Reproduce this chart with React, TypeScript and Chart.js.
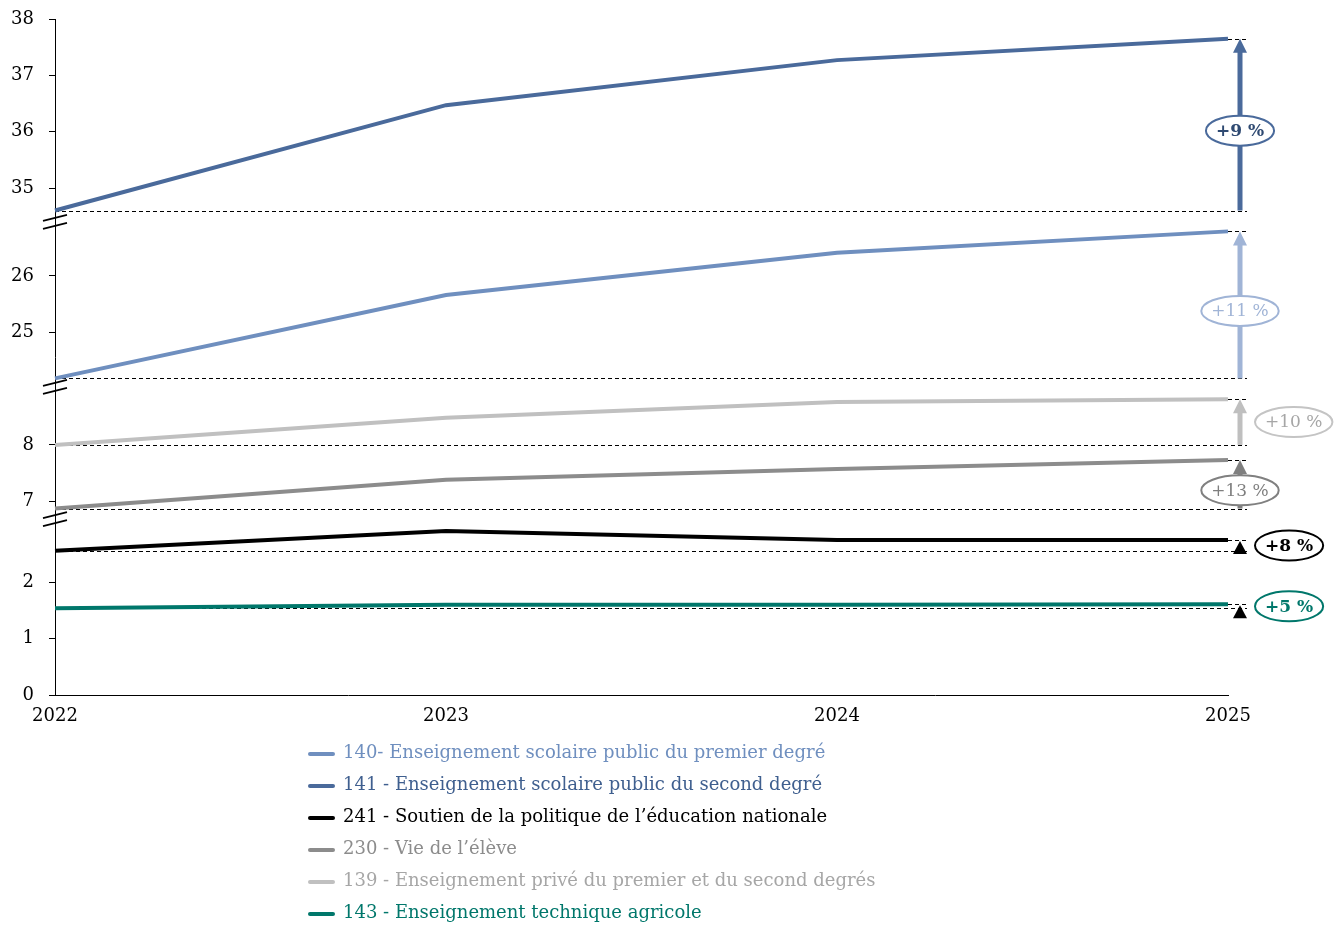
import React, { useEffect, useRef } from "react";
import { Chart, registerables } from "chart.js";
Chart.register(...registerables);

const FONT = '"DejaVu Serif", "Liberation Serif", serif';

// ---- data ----
const years = ["2022", "2023", "2024", "2025"];
const names = [
  "140- Enseignement scolaire public du premier degré",
  "141 - Enseignement scolaire public du second degré",
  "241 - Soutien de la politique de l’éducation nationale",
  "230 - Vie de l’élève",
  "139 - Enseignement privé du premier et du second degrés",
  "143 - Enseignement technique agricole",
];
const s140 = [24.18, 25.66, 26.41, 26.79];
const s141 = [34.6, 36.47, 37.27, 37.65];
const s241 = [2.56, 2.91, 2.75, 2.75];
const s230 = [6.87, 7.38, 7.57, 7.73];
const s139 = [8.0, 8.48, 8.76, 8.81];
const s143 = [1.54, 1.6, 1.6, 1.61];
const growthLabels = ["+11 %", "+9 %", "+8 %", "+13 %", "+10 %", "+5 %"];
const yTickValues = [0, 1, 2, 7, 8, 25, 26, 35, 36, 37, 38];

// ---- broken axis mapping (real value -> axis position) ----
const axisSegments = [
  { from: 30, shift: 26 },
  { from: 15, shift: 18.56 },
  { from: 5, shift: 3.56 },
  { from: -Infinity, shift: 0 },
];
const axisBreaks = [3.12, 5.47, 8.4];
const tf = (v: number) => {
  const seg = axisSegments.find((s) => v >= s.from)!;
  return v - seg.shift;
};

// ---- styles ----
const seriesValues = [s140, s141, s241, s230, s139, s143];
const lineColors = ["#6f8fbf", "#4a6a9b", "#000000", "#8c8c8c", "#c0c0c0", "#00776b"];
const legendTextColors = ["#6f8fbf", "#3f5f8f", "#000000", "#8c8c8c", "#a6a6a6", "#00776b"];
const annot = [
  { arrow: "shaft", arrowColor: "#a0b4d6", pos: "on", border: "#a0b4d6", text: "#a0b4d6", bold: false },
  { arrow: "shaft", arrowColor: "#4a6a9b", pos: "on", border: "#4a6a9b", text: "#2f4a72", bold: true },
  { arrow: "tri", arrowColor: "#000000", pos: "right", border: "#000000", text: "#000000", bold: true },
  { arrow: "shaft", arrowColor: "#7f7f7f", pos: "on", border: "#808080", text: "#7f7f7f", bold: false },
  { arrow: "shaft", arrowColor: "#bfbfbf", pos: "right", border: "#c4c4c4", text: "#a6a6a6", bold: false },
  { arrow: "tri", arrowColor: "#000000", pos: "right", border: "#00776b", text: "#00776b", bold: true },
];

const overlayPlugin = {
  id: "overlay",
  beforeDatasetsDraw(chart: any) {
    const { ctx, chartArea, scales } = chart;
    const y = scales.y;
    ctx.save();
    ctx.setLineDash([4, 3]);
    ctx.strokeStyle = "#000";
    ctx.lineWidth = 1;
    seriesValues.forEach((vals) => {
      const y0 = Math.round(y.getPixelForValue(tf(vals[0]))) + 0.5;
      const y1 = Math.round(y.getPixelForValue(tf(vals[vals.length - 1]))) + 0.5;
      ctx.beginPath();
      ctx.moveTo(chartArea.left, y0);
      ctx.lineTo(chartArea.right + 19, y0);
      ctx.moveTo(chartArea.right, y1);
      ctx.lineTo(chartArea.right + 19, y1);
      ctx.stroke();
    });
    ctx.restore();
  },
  afterDatasetsDraw(chart: any) {
    const { ctx, chartArea, scales } = chart;
    const y = scales.y;
    const ax = chartArea.right + 12;
    ctx.save();
    ctx.setLineDash([]);
    // break marks
    ctx.strokeStyle = "#000";
    ctx.lineWidth = 1.8;
    axisBreaks.forEach((b) => {
      const py = y.getPixelForValue(b);
      [-4, 4].forEach((d) => {
        ctx.beginPath();
        ctx.moveTo(chartArea.left - 12, py + d + 3);
        ctx.lineTo(chartArea.left + 12, py + d - 3);
        ctx.stroke();
      });
    });
    // arrows and labels
    ctx.textAlign = "center";
    ctx.textBaseline = "middle";
    seriesValues.forEach((vals, i) => {
      const a = annot[i];
      const yFrom = y.getPixelForValue(tf(vals[0]));
      const yTo = y.getPixelForValue(tf(vals[vals.length - 1]));
      ctx.fillStyle = a.arrowColor;
      ctx.strokeStyle = a.arrowColor;
      if (a.arrow === "shaft") {
        const headH = 14, headW = 14;
        ctx.lineWidth = 5;
        ctx.beginPath();
        ctx.moveTo(ax, yFrom);
        ctx.lineTo(ax, yTo + headH - 1);
        ctx.stroke();
        ctx.beginPath();
        ctx.moveTo(ax, yTo);
        ctx.lineTo(ax - headW / 2, yTo + headH);
        ctx.lineTo(ax + headW / 2, yTo + headH);
        ctx.closePath();
        ctx.fill();
      } else {
        const t = yTo + 1;
        ctx.beginPath();
        ctx.moveTo(ax, t);
        ctx.lineTo(ax - 7, t + 13);
        ctx.lineTo(ax + 7, t + 13);
        ctx.closePath();
        ctx.fill();
      }
      const label = growthLabels[i];
      ctx.font = `${a.bold ? "bold " : ""}17px ${FONT}`;
      const tw = ctx.measureText(label).width;
      const rx = tw / 2 + 10;
      const ry = 15;
      const mid = (yFrom + yTo) / 2;
      let cx: number, cy: number;
      if (a.pos === "on") {
        cx = ax;
        cy = mid + 6;
      } else {
        cx = chartArea.right + 27 + rx;
        cy = mid;
      }
      ctx.beginPath();
      ctx.ellipse(cx, cy, rx, ry, 0, 0, Math.PI * 2);
      ctx.fillStyle = "#fff";
      ctx.fill();
      ctx.lineWidth = 2;
      ctx.strokeStyle = a.border;
      ctx.stroke();
      ctx.fillStyle = a.text;
      ctx.fillText(label, cx, cy + 1);
    });
    ctx.restore();
  },
  afterDraw(chart: any) {
    const { ctx } = chart;
    ctx.save();
    ctx.font = `18px ${FONT}`;
    ctx.textAlign = "left";
    ctx.textBaseline = "middle";
    names.forEach((n, i) => {
      const cy = 753 + i * 32;
      ctx.strokeStyle = lineColors[i];
      ctx.lineWidth = 4;
      ctx.lineCap = "round";
      ctx.beginPath();
      ctx.moveTo(310, cy + 1);
      ctx.lineTo(333, cy + 1);
      ctx.stroke();
      ctx.fillStyle = legendTextColors[i];
      ctx.fillText(n, 343, cy);
    });
    ctx.restore();
  },
};

export default function App() {
  const ref = useRef<HTMLCanvasElement>(null);
  useEffect(() => {
    if (!ref.current) return;
    const chart = new Chart(ref.current, {
      type: "line",
      data: {
        labels: years,
        datasets: seriesValues.map((vals, i) => ({
          label: names[i],
          data: vals.map(tf),
          borderColor: lineColors[i],
          backgroundColor: lineColors[i],
          borderWidth: 4,
          pointRadius: 0,
          tension: 0,
          fill: false,
        })),
      },
      options: {
        animation: false,
        responsive: true,
        maintainAspectRatio: false,
        layout: { padding: { left: 0, top: 19, right: 110, bottom: 0 } },
        plugins: { legend: { display: false }, tooltip: { enabled: false } },
        scales: {
          x: {
            type: "category",
            offset: false,
            grid: { display: false, drawTicks: false },
            border: { display: true, color: "#000", width: 1 },
            ticks: { color: "#000", font: { family: FONT, size: 18 }, padding: 11, maxRotation: 0, autoSkip: false },
            afterFit: (s: any) => { s.height = 244; },
          },
          y: {
            type: "linear",
            min: 0,
            max: 12,
            grid: { drawOnChartArea: false, drawTicks: true, tickLength: 6, color: "#000" },
            border: { display: true, color: "#000", width: 1 },
            ticks: {
              color: "#000",
              font: { family: FONT, size: 18 },
              padding: 15,
              callback: (_v: any, idx: number) => String(yTickValues[idx]),
            },
            afterBuildTicks: (s: any) => {
              s.ticks = yTickValues.map((v) => ({ value: tf(v) }));
            },
            afterFit: (s: any) => {
              s.width = 55;
              s.paddingTop = 0;
              s.paddingBottom = 0;
            },
          },
        },
      },
      plugins: [overlayPlugin],
    });
    return () => chart.destroy();
  }, []);
  return (
    <div style={{ position: "fixed", left: 0, top: 0, width: 1338, height: 939, background: "#fff" }}>
      <canvas ref={ref} />
    </div>
  );
}
